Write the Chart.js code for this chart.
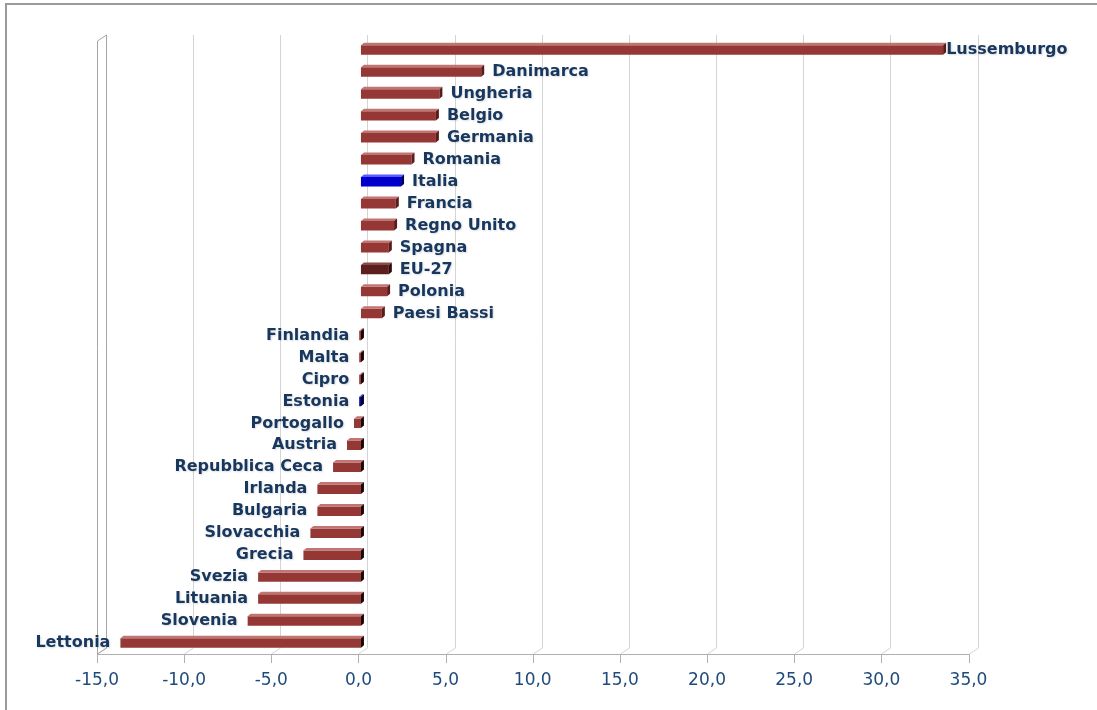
<!DOCTYPE html>
<html>
<head>
<meta charset="utf-8">
<script src="https://cdn.jsdelivr.net/npm/chart.js@4/dist/chart.umd.min.js"></script>
<style>
  html, body { margin: 0; padding: 0; background: #ffffff; }
  #wrap { width: 1097px; height: 710px; position: relative; }
</style>
</head>
<body>
<div id="wrap"><canvas id="chart" width="1097" height="710"></canvas></div>
<script>
// Paesi, dal valore più alto al più basso
const categories = [
  'Lussemburgo', 'Danimarca', 'Ungheria', 'Belgio', 'Germania', 'Romania',
  'Italia', 'Francia', 'Regno Unito', 'Spagna', 'EU-27', 'Polonia',
  'Paesi Bassi', 'Finlandia', 'Malta', 'Cipro', 'Estonia', 'Portogallo',
  'Austria', 'Repubblica Ceca', 'Irlanda', 'Bulgaria', 'Slovacchia',
  'Grecia', 'Svezia', 'Lituania', 'Slovenia', 'Lettonia'
];
const values = [
  33.4, 6.9, 4.5, 4.3, 4.3, 2.9,
  2.3, 2.0, 1.9, 1.6, 1.6, 1.5,
  1.2, -0.1, -0.1, -0.1, -0.1, -0.4,
  -0.8, -1.6, -2.5, -2.5, -2.9,
  -3.3, -5.9, -5.9, -6.5, -13.8
];
const tickValues = [-15, -10, -5, 0, 5, 10, 15, 20, 25, 30, 35];
const tickLabels = ['-15,0', '-10,0', '-5,0', '0,0', '5,0', '10,0', '15,0', '20,0', '25,0', '30,0', '35,0'];

// colori delle barre: rosso scuro, con evidenza per Italia, Estonia e media EU-27
const BASE = { front: '#953735', top: '#c07573', side: '#5a1c1b', sideNeg: '#1a0505' };
const SPECIAL = {
  'Italia':  { front: '#0000cc', top: '#5a5aff', side: '#000066', sideNeg: '#000033' },
  'Estonia': { front: '#000099', top: '#4a4ad0', side: '#000055', sideNeg: '#000033' },
  'EU-27':   { front: '#5c1f1d', top: '#8a4a48', side: '#2e0c0b', sideNeg: '#1a0505' }
};
const pal = name => SPECIAL[name] || BASE;

const DEPTH = { dx: 3, dy: -2.5 };      // spessore 3D delle barre
const WALL = { dx: 9, dy: -6 };         // profondità della parete di fondo
const LABEL_FONT = 'bold 16px "DejaVu Sans"';
const TICK_FONT = '17px "DejaVu Sans"';
const LABEL_COLOR = '#17375e';
const TICK_COLOR = '#1f4a7a';

const frame3d = {
  id: 'frame3d',
  beforeDraw(chart) {
    const { ctx, chartArea: a, scales: { x } } = chart;
    ctx.save();
    ctx.fillStyle = '#ffffff';
    ctx.fillRect(0, 0, chart.width, chart.height);

    // cornice esterna
    ctx.strokeStyle = '#9a9a9a';
    ctx.lineWidth = 2;
    ctx.beginPath();
    ctx.moveTo(6, chart.height);
    ctx.lineTo(6, 4);
    ctx.lineTo(chart.width, 4);
    ctx.stroke();

    const bottom = a.bottom;
    const backBottom = bottom + WALL.dy;
    const top = a.top - 4;

    // griglia sulla parete di fondo
    ctx.lineWidth = 1;
    tickValues.forEach(v => {
      const px = Math.round(x.getPixelForValue(v)) + 0.5;
      ctx.strokeStyle = '#d4d4d4';
      ctx.beginPath();
      ctx.moveTo(px, bottom);
      ctx.lineTo(px + WALL.dx, backBottom);
      ctx.lineTo(px + WALL.dx, top);
      ctx.stroke();
    });

    // parete sinistra
    const lx = Math.round(x.getPixelForValue(tickValues[0])) + 0.5;
    ctx.strokeStyle = '#a6a6a6';
    ctx.beginPath();
    ctx.moveTo(lx, bottom);
    ctx.lineTo(lx, top - WALL.dy);
    ctx.lineTo(lx + WALL.dx, top);
    ctx.lineTo(lx + WALL.dx, backBottom);
    ctx.lineTo(lx, bottom);
    ctx.stroke();

    // asse orizzontale con tacche
    const rx = Math.round(x.getPixelForValue(tickValues[tickValues.length - 1])) + 0.5;
    ctx.strokeStyle = '#b0b0b0';
    ctx.beginPath();
    ctx.moveTo(lx, bottom + 0.5);
    ctx.lineTo(rx, bottom + 0.5);
    tickValues.forEach(v => {
      const px = Math.round(x.getPixelForValue(v)) + 0.5;
      ctx.moveTo(px, bottom);
      ctx.lineTo(px, bottom + 9);
    });
    ctx.stroke();

    // etichette dell'asse
    ctx.fillStyle = TICK_COLOR;
    ctx.font = TICK_FONT;
    ctx.textAlign = 'center';
    ctx.textBaseline = 'middle';
    tickValues.forEach((v, i) => {
      ctx.fillText(tickLabels[i], x.getPixelForValue(v), bottom + 27);
    });
    ctx.restore();
  },
  beforeDatasetsDraw(chart) {
    chart.ctx.save();
    chart.ctx.translate(2.5, 0);
  },
  afterDatasetsDraw(chart) {
    const { ctx } = chart;
    const meta = chart.getDatasetMeta(0);
    meta.data.forEach((bar, i) => {
      const p = pal(categories[i]);
      const left = Math.min(bar.x, bar.base);
      const right = Math.max(bar.x, bar.base);
      const t = bar.y - bar.height / 2;
      const b = bar.y + bar.height / 2;
      // faccia superiore
      ctx.fillStyle = p.top;
      ctx.beginPath();
      ctx.moveTo(left, t);
      ctx.lineTo(left + DEPTH.dx, t + DEPTH.dy);
      ctx.lineTo(right + DEPTH.dx, t + DEPTH.dy);
      ctx.lineTo(right, t);
      ctx.closePath();
      ctx.fill();
      // faccia laterale
      ctx.fillStyle = values[i] < 0 ? p.sideNeg : p.side;
      ctx.beginPath();
      ctx.moveTo(right, t);
      ctx.lineTo(right + DEPTH.dx, t + DEPTH.dy);
      ctx.lineTo(right + DEPTH.dx, b + DEPTH.dy);
      ctx.lineTo(right, b);
      ctx.closePath();
      ctx.fill();
    });

    // etichette dei paesi accanto alle barre, con leggera ombra
    ctx.font = LABEL_FONT;
    ctx.fillStyle = LABEL_COLOR;
    ctx.textBaseline = 'middle';
    ctx.shadowColor = 'rgba(0, 0, 0, 0.14)';
    ctx.shadowBlur = 2;
    ctx.shadowOffsetX = 1;
    ctx.shadowOffsetY = 1;
    meta.data.forEach((bar, i) => {
      const name = categories[i];
      const left = Math.min(bar.x, bar.base);
      const right = Math.max(bar.x, bar.base);
      if (values[i] >= 0) {
        const w = ctx.measureText(name).width;
        let tx = right + DEPTH.dx + 8;
        const limit = chart.width - 32;
        if (tx + w > limit) tx = Math.max(right + DEPTH.dx, limit - w);
        ctx.textAlign = 'left';
        ctx.fillText(name, tx, bar.y);
      } else {
        ctx.textAlign = 'right';
        ctx.fillText(name, left - 10, bar.y);
      }
    });
    ctx.restore();
  }
};

new Chart(document.getElementById('chart'), {
  type: 'bar',
  data: {
    labels: categories,
    datasets: [{
      data: values,
      backgroundColor: categories.map(c => pal(c).front),
      borderWidth: 0,
      barPercentage: 0.43,
      categoryPercentage: 1.0
    }]
  },
  options: {
    indexAxis: 'y',
    responsive: false,
    animation: false,
    events: [],
    layout: { padding: { left: 97, right: 128.5, top: 39, bottom: 56 } },
    plugins: { legend: { display: false }, tooltip: { enabled: false } },
    scales: {
      x: { display: false, min: -15, max: 35 },
      y: { display: false, offset: true, grid: { display: false } }
    }
  },
  plugins: [frame3d]
});
</script>
</body>
</html>
